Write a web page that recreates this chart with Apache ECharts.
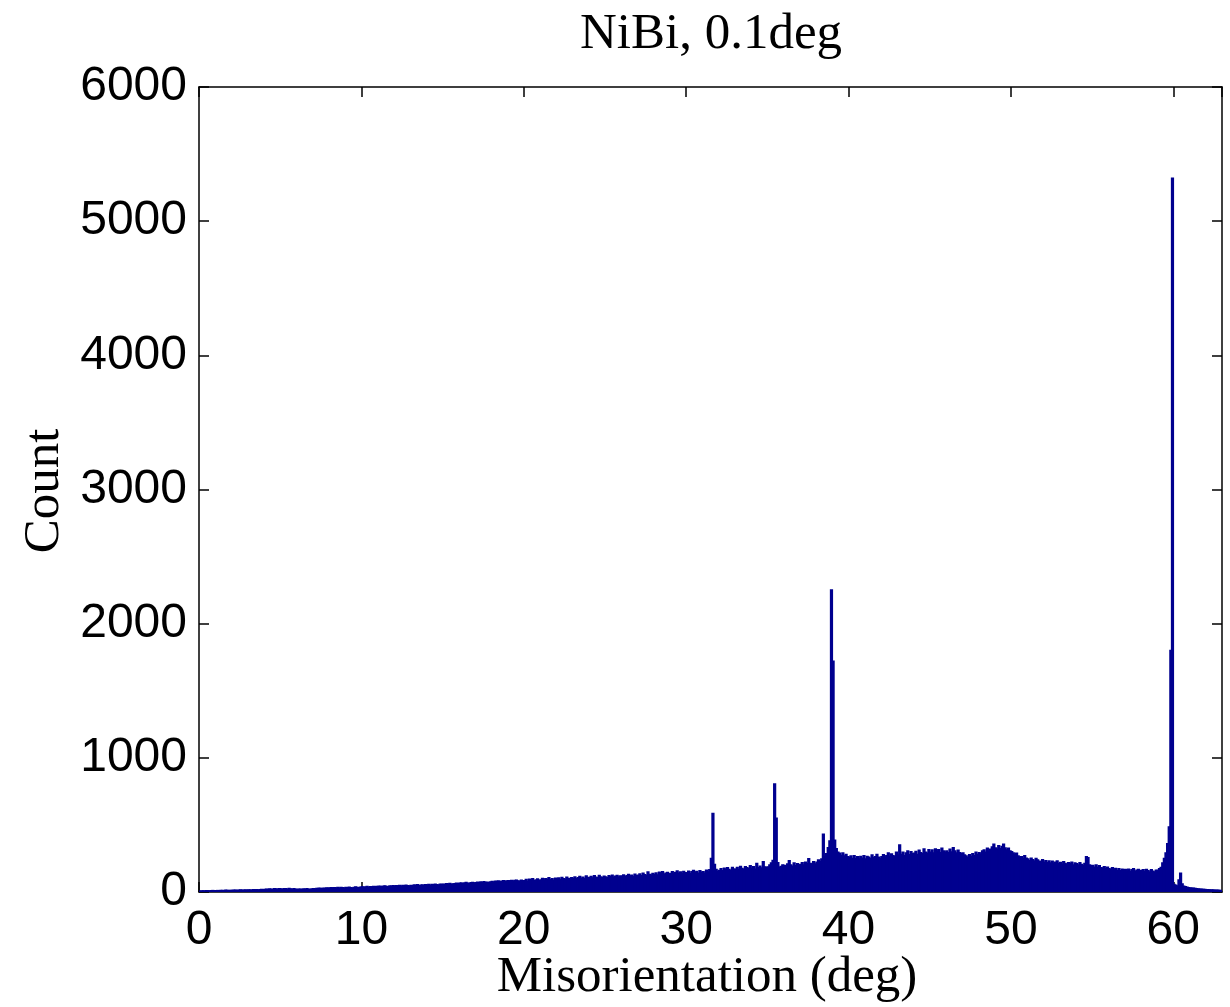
<!DOCTYPE html>
<html>
<head>
<meta charset="utf-8">
<script src="https://cdn.jsdelivr.net/npm/echarts@6/dist/echarts.min.js"></script>
<style>
html,body{margin:0;padding:0;background:#fff;}
#chart{width:1230px;height:1007px;}
</style>
</head>
<body>
<div id="chart"></div>
<script>
var titleText = 'NiBi, 0.1deg';
var xLabel = 'Misorientation (deg)';
var yLabel = 'Count';
var binStart = 0;
var binWidth = 0.1;
var xTicks = [0, 10, 20, 30, 40, 50, 60];
var yTicks = [0, 1000, 2000, 3000, 4000, 5000, 6000];
// counts per 0.1 deg bin, one row per degree (0..62)
var counts = [
  6,7,8,7,9,8,8,9,10,9,
  9,10,9,11,10,10,12,11,10,11,
  11,12,13,11,12,14,13,12,14,13,
  14,15,13,16,15,17,15,16,18,17,
  18,20,19,22,21,19,23,22,20,24,
  22,21,24,23,20,25,22,21,23,20,
  19,21,20,18,22,20,23,21,19,22,
  24,22,26,25,27,23,28,26,30,27,
  29,31,28,32,30,33,29,34,31,30,
  33,31,35,32,30,34,36,33,31,35,
  38,34,36,40,35,39,37,41,38,40,
  40,43,38,42,45,41,39,44,42,46,
  44,47,45,49,43,48,46,50,47,45,
  48,46,51,49,53,47,50,52,48,54,
  52,55,50,56,53,58,54,51,57,55,
  58,56,61,59,63,57,60,62,64,59,
  64,67,62,66,70,65,63,68,71,66,
  69,72,68,74,70,76,71,73,69,75,
  77,74,80,78,82,76,79,84,78,81,
  83,80,86,81,85,88,82,79,87,84,
  84,92,80,95,88,99,83,90,97,86,
  90,101,87,98,94,105,91,99,88,103,
  96,104,92,108,99,95,110,101,97,106,
  100,112,98,106,115,103,109,99,118,105,
  108,116,104,120,110,106,122,112,105,117,
  112,106,120,114,125,109,117,123,111,119,
  116,126,113,121,130,118,124,115,132,120,
  124,133,120,140,128,122,148,130,126,138,
  130,142,127,146,135,150,132,139,145,134,
  138,150,134,145,156,140,148,136,152,143,
  142,155,138,150,160,144,152,140,158,146,
  150,140,162,148,165,250,585,205,168,155,
  160,172,158,176,165,180,168,158,182,170,
  170,182,166,190,175,168,188,180,172,195,
  175,188,170,212,180,192,178,225,186,182,
  186,200,215,235,805,550,218,185,190,200,
  198,190,208,232,200,192,215,195,210,198,
  205,218,200,222,210,248,212,202,225,208,
  222,238,225,245,430,262,285,330,380,2250,
  1720,385,322,295,288,272,290,268,280,262,
  258,268,250,270,248,262,245,265,252,270,
  245,265,258,250,275,255,262,280,258,250,
  262,278,258,270,290,265,282,270,262,295,
  275,350,280,295,270,290,305,278,300,285,
  288,302,280,310,292,285,320,295,288,315,
  295,312,290,320,300,315,292,325,305,296,
  305,292,318,298,330,305,290,310,292,285,
  290,275,268,255,278,262,285,270,295,280,
  292,282,305,312,295,325,302,318,335,355,
  328,318,345,322,338,355,328,312,325,305,
  300,290,275,288,268,260,262,248,270,252,
  245,232,252,240,230,250,238,228,225,240,
  222,232,218,230,215,228,212,222,230,210,
  220,205,225,212,202,218,210,222,200,215,
  210,200,218,205,198,212,262,255,200,195,
  198,185,200,182,195,180,178,188,172,185,
  172,168,180,162,175,160,172,158,170,165,
  168,155,170,152,165,172,150,162,168,155,
  160,165,150,168,158,148,165,155,148,162,
  160,172,182,215,250,290,360,485,1800,5320,
  55,50,45,90,140,60,42,38,35,32,
  30,28,27,25,24,22,21,20,19,18,
  17,16,15,15,14,13,12,12,11,10
];

var seriesData = counts.map(function (c, i) {
  return [binStart + i * binWidth, binStart + (i + 1) * binWidth, c];
});

var barColor = '#00008f';
var chart = echarts.init(document.getElementById('chart'), null, {renderer: 'canvas'});
function tick() { return {show: true, inside: true, length: 10, lineStyle: {color: '#000', width: 1.5}}; }
function aline() { return {show: true, onZero: false, lineStyle: {color: '#000', width: 1.5}}; }
chart.setOption({
  animation: false,
  backgroundColor: '#fff',
  title: {
    text: titleText,
    left: 706, top: 4, textAlign: 'center',
    textStyle: {fontFamily: 'Liberation Serif', fontSize: 51, fontWeight: 'normal', color: '#000'}
  },
  grid: {left: 199, right: 8, top: 87, bottom: 115, containLabel: false, outerBoundsMode: 'none'},
  xAxis: [{
    type: 'value', min: 0, max: 63, interval: 10,
    position: 'bottom',
    axisLine: aline(), axisTick: tick(), splitLine: {show: false},
    axisLabel: {
      fontFamily: 'Liberation Sans', fontSize: 48, color: '#000', margin: 15,
      showMaxLabel: false,
      formatter: function (v) { return xTicks.indexOf(v) >= 0 ? String(v) : ''; }
    }
  }, {
    type: 'value', min: 0, max: 63, interval: 10,
    position: 'top',
    axisLine: aline(), axisTick: tick(), splitLine: {show: false},
    axisLabel: {show: false}
  }],
  yAxis: [{
    type: 'value', min: 0, max: 6000, interval: 1000,
    position: 'left',
    axisLine: aline(), axisTick: tick(), splitLine: {show: false},
    axisLabel: {
      fontFamily: 'Liberation Sans', fontSize: 48, color: '#000', margin: 12,
      formatter: function (v) { return yTicks.indexOf(v) >= 0 ? String(v) : ''; }
    }
  }, {
    type: 'value', min: 0, max: 6000, interval: 1000,
    position: 'right',
    axisLine: aline(), axisTick: tick(), splitLine: {show: false},
    axisLabel: {show: false}
  }],
  graphic: [{
    type: 'text',
    x: 45, y: 491,
    rotation: Math.PI / 2,
    style: {
      text: yLabel, align: 'center', verticalAlign: 'middle',
      fontFamily: 'Liberation Serif', fontSize: 51, fill: '#000'
    }
  }, {
    type: 'text',
    x: 707, y: 978,
    style: {
      text: xLabel, align: 'center', verticalAlign: 'middle',
      fontFamily: 'Liberation Serif', fontSize: 51, fill: '#000'
    }
  }],
  series: [{
    type: 'custom',
    xAxisIndex: 0, yAxisIndex: 0,
    data: seriesData,
    encode: {x: [0, 1], y: 2},
    clip: true,
    renderItem: function (params, api) {
      var p0 = api.coord([api.value(0), 0]);
      var p1 = api.coord([api.value(1), api.value(2)]);
      return {
        type: 'rect',
        shape: {x: p0[0], y: p1[1], width: p1[0] - p0[0], height: p0[1] - p1[1]},
        style: {fill: barColor, stroke: barColor, lineWidth: 1.6}
      };
    },
    z: 1
  }]
});
</script>
</body>
</html>
